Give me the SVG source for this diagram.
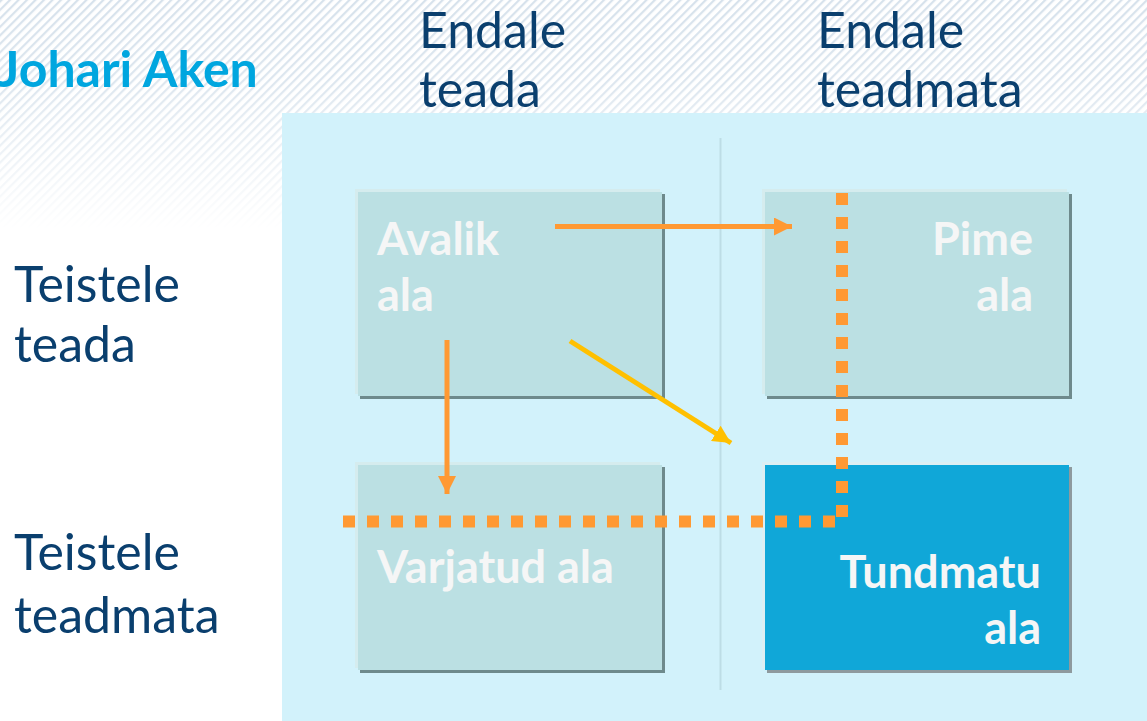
<svg xmlns="http://www.w3.org/2000/svg" width="1147" height="721" viewBox="0 0 1147 721">
  <defs>
    <pattern id="stripes" width="6" height="6" patternUnits="userSpaceOnUse" patternTransform="rotate(45)">
      <rect width="6" height="6" fill="#ffffff"/>
      <rect width="2.2" height="6" fill="#d7e2ec"/>
    </pattern>
    <linearGradient id="fade" x1="0" y1="0" x2="0" y2="1">
      <stop offset="0" stop-color="#fff" stop-opacity="1"/>
      <stop offset="0.35" stop-color="#fff" stop-opacity="0.85"/>
      <stop offset="1" stop-color="#fff" stop-opacity="0"/>
    </linearGradient>
    <mask id="fadeMask">
      <rect x="0" y="0" width="1147" height="230" fill="url(#fade)"/>
    </mask>
    <marker id="headOrange" viewBox="0 0 10 10" refX="10" refY="5" markerWidth="3.6" markerHeight="3.6" orient="auto" markerUnits="strokeWidth">
      <path d="M0,0 L10,5 L0,10 z" fill="#FF9933"/>
    </marker>
    <marker id="headYellow" viewBox="0 0 10 10" refX="10" refY="5" markerWidth="3.6" markerHeight="3.6" orient="auto" markerUnits="strokeWidth">
      <path d="M0,0 L10,5 L0,10 z" fill="#FFC000"/>
    </marker>
  </defs>
  <style>
    .head { font-family: Lato, "Open Sans", "Liberation Sans", sans-serif; font-size: 50px; fill: #0A3F6E; }
    .title { font-family: Lato, "Open Sans", "Liberation Sans", sans-serif; font-size: 50px; font-weight: bold; fill: #00A6DF; }
    .lbl { font-family: Lato, "Open Sans", "Liberation Sans", sans-serif; font-size: 45px; font-weight: bold; fill: #F5F6F6; }
    .box { fill: #BBE0E3; }
    .hl { fill: #D5ECEE; }
    .sh { fill: #6E8A8C; }
    .arrow { fill: none; stroke: #FF9933; stroke-width: 5; }
    .dots { fill: none; stroke: #FF9933; stroke-width: 12; stroke-dasharray: 12 12; }
  </style>

  <!-- page background with fading diagonal stripes -->
  <rect width="1147" height="721" fill="#ffffff"/>
  <rect width="1147" height="230" fill="url(#stripes)" mask="url(#fadeMask)"/>

  <!-- light-blue panel and centre divider -->
  <rect x="282" y="113" width="865" height="608" fill="#D2F2FB"/>
  <line x1="720.5" y1="138" x2="720.5" y2="690" stroke="#BDDDE6" stroke-width="2"/>

  <text class="title" x="-2" y="87">Johari Aken</text>

  <text class="head" x="419" y="48">Endale</text>
  <text class="head" x="419" y="107">teada</text>
  <text class="head" x="817" y="48">Endale</text>
  <text class="head" x="817" y="107">teadmata</text>
  <text class="head" x="14" y="302">Teistele</text>
  <text class="head" x="14" y="362">teada</text>
  <text class="head" x="14" y="570">Teistele</text>
  <text class="head" x="14" y="633">teadmata</text>

  <g id="avalik">
    <rect class="sh" x="360" y="194" width="305" height="205"/>
    <rect class="hl" x="355" y="189" width="305" height="205"/>
    <rect class="box" x="358" y="192" width="304" height="204"/>
    <text class="lbl" x="377" y="255">Avalik</text>
    <text class="lbl" x="377" y="311">ala</text>
  </g>

  <g id="pime">
    <rect class="sh" x="767" y="194" width="305" height="205"/>
    <rect class="hl" x="762" y="189" width="305" height="205"/>
    <rect class="box" x="765" y="192" width="304" height="204"/>
    <text class="lbl" x="1033" y="255" text-anchor="end">Pime</text>
    <text class="lbl" x="1033" y="311" text-anchor="end">ala</text>
  </g>

  <g id="varjatud">
    <rect class="sh" x="360" y="467" width="305" height="206"/>
    <rect class="hl" x="355" y="462" width="305" height="206"/>
    <rect class="box" x="358" y="465" width="304" height="205"/>
    <text class="lbl" x="377" y="583">Varjatud ala</text>
  </g>

  <g id="tundmatu">
    <rect x="767" y="467" width="305" height="206" fill="#8E9A9E"/>
    <rect x="762" y="462" width="305" height="206" fill="#DDEFF3"/>
    <rect x="765" y="465" width="304" height="205" fill="#10A7D8"/>
    <text class="lbl" x="1041" y="588" text-anchor="end">Tundmatu</text>
    <text class="lbl" x="1041" y="644" text-anchor="end">ala</text>
  </g>

  <g id="connectors">
    <line class="arrow" x1="555" y1="226.5" x2="792" y2="226.5" marker-end="url(#headOrange)"/>
    <line class="arrow" x1="447" y1="340" x2="447" y2="494" marker-end="url(#headOrange)"/>
    <line x1="570" y1="341" x2="731" y2="443" stroke="#FFC000" stroke-width="5" marker-end="url(#headYellow)"/>
    <path class="dots" d="M842,193 L842,521 M343,521.5 L842,521.5"/>
  </g>
</svg>
